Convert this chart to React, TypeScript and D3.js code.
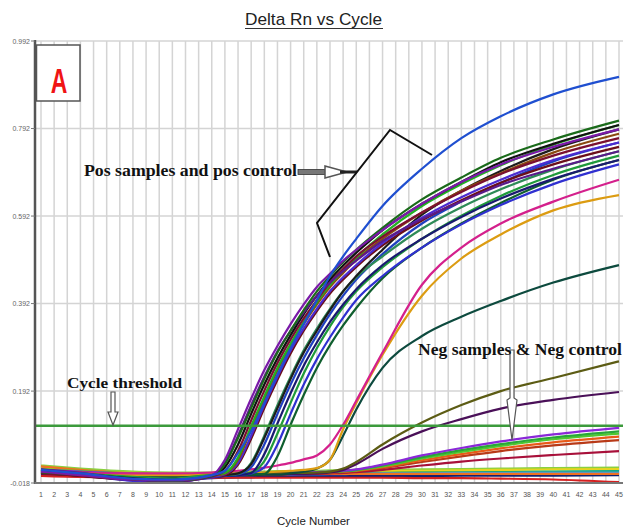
import React from 'react'
import * as d3 from 'd3'

const cycles = [1, 4, 8, 11, 14, 15, 16, 17, 18, 19, 20, 21, 22, 23, 24, 25, 27, 30, 33, 36, 40, 45]
const xTicks = [1, 2, 3, 4, 5, 6, 7, 8, 9, 10, 11, 12, 13, 14, 15, 16, 17, 18, 19, 20, 21, 22, 23,
  24, 25, 26, 27, 28, 29, 30, 31, 32, 33, 34, 35, 36, 37, 38, 39, 40, 41, 42, 43, 44, 45]
const yTicks = [-0.018, 0.192, 0.392, 0.592, 0.792, 0.992]
const threshold = 0.113

// flat (no amplification) wells
const base1 = [0.018, 0.012, 0.006, 0.004, 0.004, 0.004, 0.005, 0.005, 0.006, 0.006, 0.006, 0.007, 0.007, 0.007, 0.008, 0.008, 0.008, 0.009, 0.009, 0.01, 0.01, 0.011]
const base2 = [0.012, 0.008, 0.003, 0.001, 0.002, 0.002, 0.002, 0.003, 0.003, 0.003, 0.004, 0.004, 0.004, 0.005, 0.005, 0.005, 0.006, 0.006, 0.006, 0.007, 0.007, 0.008]
const base3 = [0.022, 0.015, 0.008, 0.006, 0.006, 0.007, 0.007, 0.008, 0.008, 0.009, 0.009, 0.01, 0.01, 0.011, 0.011, 0.012, 0.012, 0.013, 0.014, 0.015, 0.016, 0.017]
const base4 = [0.015, 0.01, 0.005, 0.004, 0.004, 0.004, 0.005, 0.005, 0.005, 0.006, 0.006, 0.006, 0.007, 0.007, 0.007, 0.008, 0.009, 0.01, 0.011, 0.012, 0.013, 0.014]
const base5 = [0.005, 0.002, -0.002, -0.003, -0.002, -0.002, -0.001, -0.001, -0.001, 0, 0, 0, 0, 0.001, 0.001, 0.001, 0.001, 0.002, 0.002, 0.002, 0.003, 0.003]
const base6 = [0, -0.003, -0.008, -0.01, -0.007, -0.006, -0.005, -0.005, -0.004, -0.004, -0.004, -0.003, -0.003, -0.003, -0.003, -0.002, -0.002, -0.002, -0.001, -0.001, -0.001, 0]
const base7 = [0.01, 0.006, 0.002, 0, 0.001, 0.001, 0.002, 0.002, 0.002, 0.003, 0.003, 0.003, 0.004, 0.004, 0.004, 0.005, 0.005, 0.006, 0.006, 0.007, 0.007, 0.008]
const base8 = [0.008, 0.005, 0.001, -0.001, 0, 0, 0.001, 0.001, 0.001, 0.002, 0.002, 0.002, 0.002, 0.003, 0.003, 0.003, 0.004, 0.004, 0.005, 0.005, 0.006, 0.006]
const base9 = [-0.002, -0.004, -0.006, -0.007, -0.006, -0.006, -0.006, -0.006, -0.006, -0.006, -0.006, -0.006, -0.006, -0.006, -0.006, -0.006, -0.006, -0.007, -0.007, -0.008, -0.01, -0.016]
const base10 = [0.02, 0.012, 0.004, 0.002, 0.002, 0.002, 0.002, 0.002, 0.002, 0.002, 0.003, 0.003, 0.003, 0.003, 0.003, 0.003, 0.003, 0.003, 0.003, 0.003, 0.003, 0.003]

// negative samples & neg control
const neg1 = [0.012, 0.008, 0.003, 0.002, 0.003, 0.003, 0.004, 0.004, 0.005, 0.005, 0.006, 0.006, 0.007, 0.008, 0.01, 0.013, 0.024, 0.045, 0.062, 0.077, 0.093, 0.108]
const neg2 = [0.01, 0.006, 0.002, 0.001, 0.002, 0.003, 0.003, 0.004, 0.004, 0.005, 0.005, 0.006, 0.006, 0.007, 0.009, 0.012, 0.022, 0.041, 0.057, 0.071, 0.086, 0.1]
const neg3 = [0.014, 0.009, 0.004, 0.003, 0.003, 0.004, 0.004, 0.004, 0.005, 0.005, 0.006, 0.006, 0.007, 0.008, 0.009, 0.011, 0.02, 0.038, 0.053, 0.067, 0.082, 0.095]
const neg4 = [0.009, 0.005, 0.001, 0, 0.001, 0.001, 0.002, 0.002, 0.003, 0.003, 0.004, 0.004, 0.005, 0.006, 0.008, 0.01, 0.018, 0.034, 0.048, 0.061, 0.075, 0.088]
const neg5 = [0.007, 0.003, 0, -0.001, 0, 0, 0.001, 0.001, 0.002, 0.002, 0.003, 0.003, 0.004, 0.005, 0.007, 0.009, 0.016, 0.03, 0.043, 0.055, 0.068, 0.08]
const neg6 = [0.006, 0.002, -0.002, -0.003, -0.002, -0.001, 0, 0, 0.001, 0.001, 0.002, 0.002, 0.003, 0.004, 0.005, 0.007, 0.012, 0.022, 0.031, 0.038, 0.046, 0.055]
const negOlive = [0.01, 0.006, 0.002, 0.001, 0.002, 0.002, 0.003, 0.003, 0.004, 0.004, 0.005, 0.005, 0.006, 0.008, 0.015, 0.03, 0.07, 0.12, 0.16, 0.192, 0.222, 0.26]
const negPurple = [0.008, 0.004, 0, -0.001, 0, 0, 0.001, 0.001, 0.002, 0.002, 0.003, 0.003, 0.004, 0.006, 0.012, 0.025, 0.06, 0.1, 0.128, 0.152, 0.172, 0.19]

// late / weak positives
const lateTeal = [0.006, 0.002, -0.003, -0.004, -0.002, -0.001, 0, 0, 0.001, 0.001, 0.004, 0.008, 0.015, 0.035, 0.09, 0.15, 0.245, 0.318, 0.362, 0.398, 0.44, 0.48]
const lateOrange = [0.008, 0.003, 0, 0, 0.002, 0.003, 0.004, 0.005, 0.006, 0.008, 0.01, 0.012, 0.016, 0.035, 0.105, 0.165, 0.275, 0.41, 0.495, 0.55, 0.605, 0.64]
const lateMagenta = [0.012, 0.006, 0.004, 0.004, 0.006, 0.008, 0.01, 0.013, 0.017, 0.022, 0.028, 0.036, 0.045, 0.07, 0.115, 0.17, 0.28, 0.435, 0.52, 0.575, 0.625, 0.675]

// pos samples and pos control
const pos1 = [0.008, 0, -0.01, -0.012, 0, 0.035, 0.105, 0.175, 0.24, 0.295, 0.345, 0.39, 0.43, 0.46, 0.49, 0.515, 0.56, 0.62, 0.67, 0.71, 0.75, 0.79]
const pos2 = [0.006, 0.001, -0.009, -0.013, -0.002, 0.025, 0.085, 0.153, 0.22, 0.28, 0.33, 0.377, 0.42, 0.455, 0.487, 0.515, 0.565, 0.63, 0.68, 0.725, 0.767, 0.81]
const pos3 = [0.01, 0.003, -0.007, -0.011, -0.001, 0.018, 0.07, 0.14, 0.207, 0.267, 0.32, 0.368, 0.41, 0.447, 0.479, 0.508, 0.56, 0.62, 0.67, 0.715, 0.757, 0.8]
const pos4 = [0.004, -0.001, -0.01, -0.014, -0.003, 0.01, 0.055, 0.125, 0.193, 0.256, 0.31, 0.358, 0.4, 0.44, 0.471, 0.5, 0.545, 0.6, 0.647, 0.688, 0.73, 0.77]
const pos5 = [0.012, 0.004, -0.006, -0.01, 0, 0.005, 0.04, 0.112, 0.18, 0.245, 0.3, 0.35, 0.395, 0.435, 0.467, 0.497, 0.55, 0.615, 0.665, 0.708, 0.755, 0.8]
const pos6 = [0.007, 0, -0.009, -0.012, -0.002, 0.003, 0.035, 0.105, 0.173, 0.239, 0.295, 0.345, 0.39, 0.43, 0.462, 0.492, 0.54, 0.6, 0.65, 0.69, 0.737, 0.78]
const pos7 = [0.009, 0.002, -0.012, -0.015, -0.004, 0.002, 0.028, 0.09, 0.16, 0.225, 0.285, 0.335, 0.38, 0.42, 0.452, 0.48, 0.53, 0.588, 0.635, 0.675, 0.72, 0.76]
const pos8 = [0.005, -0.002, -0.011, -0.013, -0.003, 0, 0.024, 0.083, 0.153, 0.218, 0.278, 0.33, 0.375, 0.415, 0.447, 0.476, 0.525, 0.582, 0.628, 0.668, 0.71, 0.75]
const pos9 = [0.01, 0.003, -0.005, -0.009, -0.001, 0, 0.003, 0.028, 0.09, 0.16, 0.225, 0.285, 0.335, 0.38, 0.42, 0.452, 0.5, 0.563, 0.612, 0.653, 0.698, 0.74]
const pos10 = [0.008, 0.001, -0.01, -0.013, -0.004, -0.001, 0.002, 0.018, 0.07, 0.14, 0.207, 0.267, 0.32, 0.368, 0.41, 0.447, 0.505, 0.575, 0.625, 0.668, 0.717, 0.76]
const pos11 = [0.006, -0.001, -0.011, -0.014, -0.004, -0.002, 0, 0.005, 0.048, 0.118, 0.187, 0.25, 0.303, 0.35, 0.39, 0.425, 0.48, 0.54, 0.59, 0.632, 0.677, 0.72]
const pos12 = [0.011, 0.004, -0.004, -0.008, 0, 0, 0.002, 0.006, 0.032, 0.095, 0.165, 0.232, 0.29, 0.34, 0.384, 0.42, 0.475, 0.54, 0.593, 0.638, 0.686, 0.73]
const pos13 = [0.007, 0, -0.013, -0.016, -0.005, -0.002, 0, 0.004, 0.018, 0.07, 0.14, 0.207, 0.265, 0.315, 0.36, 0.4, 0.455, 0.52, 0.573, 0.617, 0.665, 0.71]
const pos14 = [0.009, 0.002, -0.008, -0.012, -0.002, -0.001, 0, 0.002, 0.003, 0.043, 0.115, 0.183, 0.245, 0.297, 0.342, 0.382, 0.45, 0.52, 0.575, 0.622, 0.675, 0.72]
const pos15 = [0.013, 0.005, -0.01, -0.014, -0.002, 0.028, 0.09, 0.16, 0.225, 0.283, 0.33, 0.372, 0.41, 0.44, 0.466, 0.49, 0.535, 0.585, 0.625, 0.663, 0.7, 0.74]
const pos16 = [0.005, -0.001, -0.009, -0.012, -0.003, 0, 0.004, 0.025, 0.085, 0.153, 0.22, 0.28, 0.33, 0.377, 0.42, 0.455, 0.515, 0.595, 0.65, 0.695, 0.745, 0.79]
const posTop = [0.012, 0.004, -0.008, -0.01, 0, 0.01, 0.05, 0.1, 0.165, 0.23, 0.29, 0.345, 0.4, 0.455, 0.5, 0.54, 0.615, 0.7, 0.77, 0.82, 0.87, 0.91]

const drawList: [number[], string][] = [
  [base1, '#12c4d6'], [base2, '#0a8a8a'], [base3, '#8ad040'], [base4, '#e6d420'],
  [base5, '#1848d8'], [base6, '#14206e'], [base7, '#18a858'], [base8, '#3aa0e8'],
  [base10, '#f07020'], [base9, '#d42020'],
  [neg6, '#a8103a'], [neg5, '#b83a18'], [neg4, '#e85a18'], [neg3, '#50c830'],
  [neg2, '#28a838'], [neg1, '#8a28d8'], [negPurple, '#4a1058'], [negOlive, '#5c5c14'],
  [lateTeal, '#0d4a3e'], [lateOrange, '#dc9c12'], [lateMagenta, '#d4208c'],
  [pos14, '#0f5e2e'], [pos13, '#3030d0'], [pos12, '#1f9a3a'], [pos11, '#1a1a70'],
  [pos10, '#2040c0'], [pos9, '#2e8b57'], [pos16, '#1c1c1c'], [pos8, '#6b0f1a'],
  [pos7, '#4b2bd0'], [pos6, '#8b4a10'], [pos5, '#22b022'], [pos4, '#7b1030'],
  [pos3, '#111111'], [pos15, '#5a1a8a'], [pos2, '#1a6b1a'], [pos1, '#7a1aa8'],
  [posTop, '#1f4fd0'],
]

const W = 625
const H = 528
const L = 35, R = 623, T = 41, B = 483

export default function App() {
  const x = d3.scaleLinear().domain([1, 45]).range([41, 619])
  const y = d3.scaleLinear().domain([-0.018, 0.992]).range([B, T])
  const line = d3.line<number>()
    .x((_, i) => x(cycles[i]))
    .y(d => y(d))
    .curve(d3.curveMonotoneX)
  const serif = '"Liberation Serif", "Times New Roman", serif'
  const sans = '"Liberation Sans", Arial, sans-serif'
  const ty = y(threshold)

  return (
    <svg width={W} height={H} style={{position: 'absolute', left: 0, top: 0, background: '#fff'}}>
      <defs>
        <clipPath id="plot"><rect x={L} y={T} width={R - L} height={B - T} /></clipPath>
      </defs>
      <rect x={0} y={0} width={W} height={H} fill="#fff" />

      {/* grid */}
      {xTicks.map(c => (
        <line key={'gx' + c} x1={x(c)} x2={x(c)} y1={T} y2={B} stroke="#d4d4d4" strokeWidth={1.5} />
      ))}
      {yTicks.slice(1).map(v => (
        <line key={'gy' + v} x1={L} x2={R} y1={y(v)} y2={y(v)} stroke="#d4d4d4" strokeWidth={1.5} />
      ))}

      {/* curves */}
      <g clipPath="url(#plot)" fill="none" strokeWidth={2.2} strokeLinejoin="round">
        {drawList.map(([vals, col], i) => (
          <path key={i} d={line(vals) || ''} stroke={col} />
        ))}
      </g>

      {/* threshold */}
      <line x1={L} x2={R} y1={ty} y2={ty} stroke="#3c9a3c" strokeWidth={2.5} />

      {/* axes */}
      <line x1={L} x2={L} y1={T - 1} y2={B + 1} stroke="#555" strokeWidth={2.5} />
      <line x1={L} x2={R} y1={B} y2={B} stroke="#777" strokeWidth={2} />
      {yTicks.map(v => (
        <g key={'yt' + v}>
          <line x1={L - 4} x2={L} y1={y(v)} y2={y(v)} stroke="#777" strokeWidth={1} />
          <text x={30} y={y(v) + 2.5} textAnchor="end" fontSize={7} fontFamily={sans} fill="#666">
            {v.toFixed(3)}
          </text>
        </g>
      ))}
      {xTicks.map(c => (
        <text key={'xt' + c} x={x(c)} y={497} textAnchor="middle" fontSize={7} fontFamily={sans} fill="#555">
          {c}
        </text>
      ))}

      {/* box A */}
      <rect x={36.5} y={45} width={43.5} height={56} fill="#fff" stroke="#555" strokeWidth={1.5} />
      <text x={59} y={0} transform="translate(0,93) scale(1,1.5)" textAnchor="middle"
        fontSize={23} fontWeight="bold" fontFamily={sans} fill="#f01414">A</text>

      {/* titles */}
      <text x={313.5} y={25} textAnchor="middle" fontSize={17} fontFamily={sans} fill="#222"
        textLength={137} lengthAdjust="spacingAndGlyphs">Delta Rn vs Cycle</text>
      <line x1={245} x2={383} y1={28.5} y2={28.5} stroke="#333" strokeWidth={1.2} />
      <text x={313.5} y={525} textAnchor="middle" fontSize={11.5} fontFamily={sans} fill="#222">Cycle Number</text>

      {/* pos annotation */}
      <text x={84} y={176} fontSize={16} fontWeight="bold" fontFamily={serif} fill="#111"
        textLength={213} lengthAdjust="spacingAndGlyphs">Pos samples and pos control</text>
      <rect x={298} y={169.5} width={28} height={5} fill="#777" stroke="#333" strokeWidth={0.8} />
      <polygon points="325,166 347,172 325,178" fill="#fff" stroke="#555" strokeWidth={1.5} />
      <line x1={340} x2={357} y1={172} y2={172} stroke="#222" strokeWidth={3} />
      <polyline points="330,257 317,223 390,130 432,155" fill="none" stroke="#111" strokeWidth={2} />

      {/* threshold annotation */}
      <text x={67} y={388} fontSize={15} fontWeight="bold" fontFamily={serif} fill="#111"
        textLength={115} lengthAdjust="spacingAndGlyphs">Cycle threshold</text>
      <polygon points="111,392 115,392 115,412 118,412 113,425 108,412 111,412"
        fill="#fff" stroke="#555" strokeWidth={1.2} />

      {/* neg annotation */}
      <polygon points="510,350 514,350 514,398 517,400 512,440 507,400 510,398"
        fill="#fff" stroke="#555" strokeWidth={1.2} />
      <text x={418} y={355} fontSize={16} fontWeight="bold" fontFamily={serif} fill="#111"
        textLength={204} lengthAdjust="spacingAndGlyphs">Neg samples &amp; Neg control</text>
    </svg>
  )
}
